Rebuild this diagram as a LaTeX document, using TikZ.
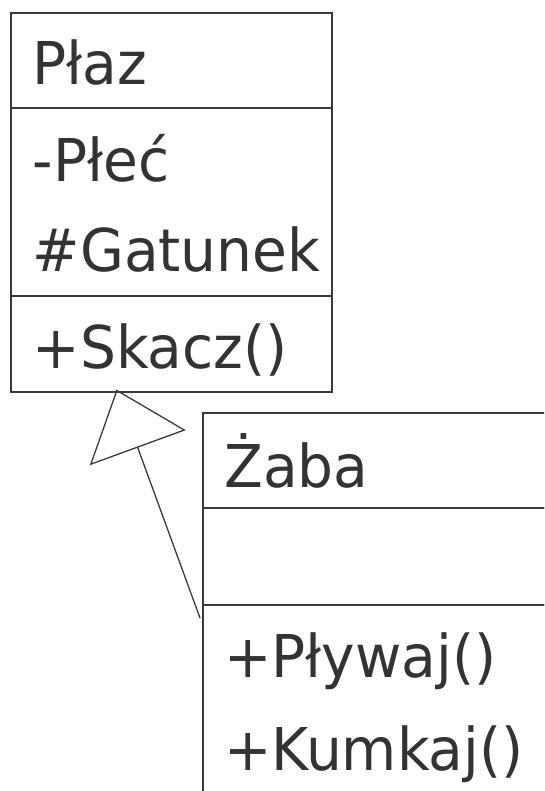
\documentclass[tikz,border=0pt]{standalone}
\usepackage{fontspec}
\setmainfont{DejaVu Sans}[FakeStretch=0.96]
\usetikzlibrary{positioning,arrows.meta}
\definecolor{UmlLine}{HTML}{3A3A3C}
\definecolor{UmlText}{HTML}{333336}

\begin{document}
\begin{tikzpicture}[x=1pt,y=-1pt,
  part/.style={draw=UmlLine, line width=2pt, anchor=north west, inner sep=0pt, outer sep=0pt},
  member/.style={text=UmlText, anchor=base west, inner sep=0pt, font=\fontsize{59}{70}\selectfont}]
  \useasboundingbox (0,0) rectangle (544,791);
  \clip (0,0) rectangle (544,791);

  % class Plaz: name, attributes, operations
  \node[part, minimum width=321pt, minimum height=95pt] (plaz-name) at (10.5,13) {};
  \node[part, minimum width=321pt, minimum height=188pt, below=0pt of plaz-name] (plaz-attr) {};
  \node[part, minimum width=321pt, minimum height=96pt, below=0pt of plaz-attr] (plaz-ops) {};
  \node[member] (plaz-title) at ([xshift=22pt,yshift=-72pt]plaz-name.north west) {Płaz};
  \node[member] (plaz-plec) at ([xshift=22pt,yshift=-74pt]plaz-attr.north west) {-Płeć};
  \node[member] (plaz-gatunek) at ([xshift=22pt,yshift=-164pt]plaz-attr.north west) {\#Gatunek};
  \node[member] (plaz-skacz) at ([xshift=22pt,yshift=-72pt]plaz-ops.north west) {+Skacz()};

  % class Zaba
  \node[part, minimum width=400pt, minimum height=95pt] (zaba-name) at (203,413) {};
  \node[part, minimum width=400pt, minimum height=97pt, below=0pt of zaba-name] (zaba-attr) {};
  \node[part, minimum width=400pt, minimum height=250pt, below=0pt of zaba-attr] (zaba-ops) {};
  \node[member] (zaba-title) at ([xshift=21pt,yshift=-74pt]zaba-name.north west) {Żaba};
  \node[member] (zaba-plywaj) at ([xshift=21pt,yshift=-72pt]zaba-ops.north west) {+Pływaj()};
  \node[member] (zaba-kumkaj) at ([xshift=21pt,yshift=-165pt]zaba-ops.north west) {+Kumkaj()};

  % generalisation
  \coordinate (gen-from) at ([xshift=-3pt,yshift=-13pt]zaba-ops.north west);
  \coordinate (gen-to) at ([xshift=106pt,yshift=2.5pt]plaz-ops.south west);
  \draw[UmlLine, line width=1.3pt, -{Triangle[open, length=62pt, width=102pt]}] (gen-from) -- (gen-to);
\end{tikzpicture}
\end{document}
